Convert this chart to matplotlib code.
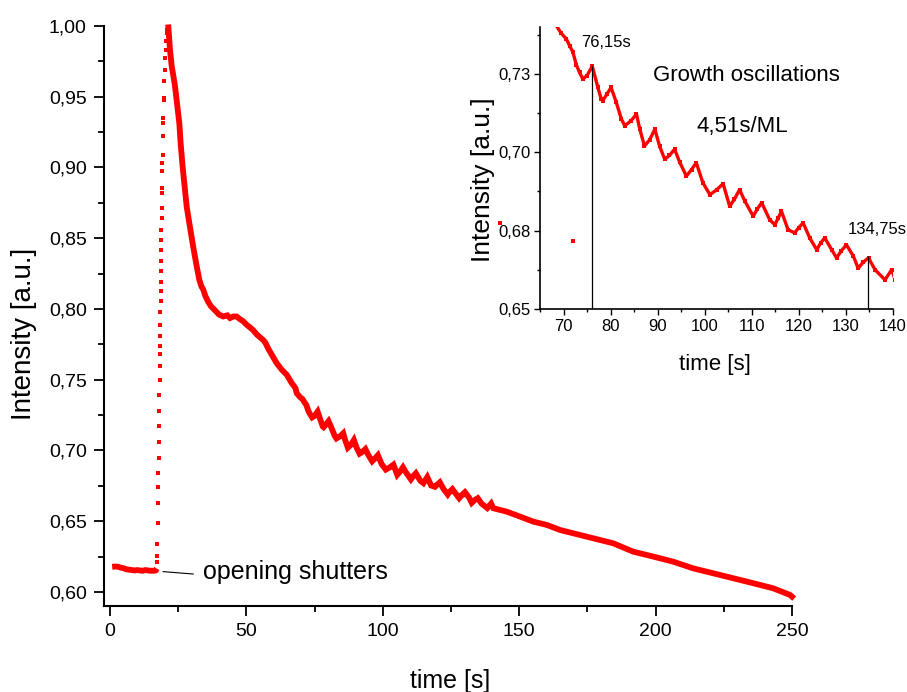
import matplotlib
matplotlib.use("Agg")
import matplotlib.pyplot as plt
from matplotlib.ticker import FuncFormatter, MultipleLocator

plt.rcParams['font.family'] = ['Liberation Sans', 'DejaVu Sans']

# ---------------- data ----------------
baseline_time = [0.8, 2, 3, 4, 5, 6, 7, 8, 9, 10, 11, 12, 13, 14, 15, 16, 16.8, 17.2]
baseline_intensity = [0.6178, 0.6180, 0.6178, 0.6172, 0.6168, 0.6160, 0.6158, 0.6155, 0.6152,
                      0.6155, 0.6152, 0.6150, 0.6155, 0.6152, 0.6150, 0.6150, 0.6152, 0.6165]

rise_time = [17.25, 17.3, 17.35, 17.45, 17.55, 17.6, 17.7, 17.8, 17.85, 17.95, 18.0, 18.1, 18.15,
             18.2, 18.3, 18.33, 18.33, 18.33, 18.45, 18.57, 18.57, 18.69, 18.69, 18.69, 18.82,
             18.82, 18.82, 18.94, 18.94, 19.06, 19.06, 19.18, 19.18, 19.3, 19.43, 19.55, 19.55,
             19.67, 19.79, 19.92, 20.04, 20.16, 20.4, 20.53, 20.77, 21.0]
rise_intensity = [0.6214, 0.6255, 0.634, 0.6488, 0.663, 0.674, 0.684, 0.695, 0.706, 0.717, 0.728,
                  0.739, 0.750, 0.760, 0.768, 0.7735, 0.7806, 0.7888, 0.7982, 0.8053, 0.8124,
                  0.8194, 0.8265, 0.8336, 0.8419, 0.8489, 0.856, 0.8643, 0.8713, 0.882, 0.8855,
                  0.8973, 0.9032, 0.909, 0.922, 0.9315, 0.935, 0.948, 0.949, 0.961, 0.969,
                  0.9774, 0.9833, 0.9892, 0.995, 0.9975]

decay_time = [21.4, 22.0, 22.6, 23.2, 23.8, 24.4, 25.4, 25.9, 26.6, 27.5, 28.1, 29.3, 30.5, 31.8,
              32.7, 33.5, 34.2, 35.0, 36.0, 37.0, 38.5, 40.0, 41.5, 43.0, 44.0, 45.2, 46.4, 47.5,
              48.9, 50.0, 51.3, 52.5, 53.8, 55.0, 56.2, 57.0, 58.0, 59.5, 61.1, 63.0, 64.8, 66.5,
              68.0, 68.45, 69.5, 70.6, 71.3, 72.0, 72.7, 73.4, 74.1, 75.0, 76.1, 77.3, 78.0, 78.3,
              79.2, 80.1, 81.2, 82.3, 83.0, 84.3, 85.5, 86.2, 87.2, 88.3, 89.4, 90.4, 91.5, 92.5,
              93.6, 94.7, 96.1, 97.2, 98.2, 99.6, 101.1, 102.5, 103.9, 105.3, 106.3, 107.4, 108.5,
              110.3, 111.2, 112.1, 113.8, 114.9, 115.6, 116.3, 117.7, 119.1, 120.0, 120.9, 122.3,
              123.8, 124.6, 125.5, 127.0, 128.0, 129.0, 130.1, 131.6, 132.6, 133.7, 134.8, 136.2,
              138.3, 139.7, 140.5, 145.4, 150.3, 155.2, 160.1, 165.0, 169.8, 174.7, 179.6, 184.5,
              191.8, 199.2, 206.5, 213.8, 221.2, 228.5, 235.8, 243.1, 249.3, 250.0]
decay_intensity = [0.999, 0.983, 0.972, 0.965, 0.958, 0.948, 0.9315, 0.917, 0.901, 0.884, 0.8725,
                   0.858, 0.844, 0.830, 0.821, 0.816, 0.8136, 0.809, 0.805, 0.802, 0.799, 0.796,
                   0.7947, 0.7955, 0.7936, 0.7947, 0.7947, 0.793, 0.7912, 0.789, 0.787, 0.785,
                   0.782, 0.780, 0.778, 0.776, 0.772, 0.767, 0.7617, 0.757, 0.7535, 0.748, 0.744,
                   0.7405, 0.738, 0.7362, 0.734, 0.732, 0.728, 0.7255, 0.7234, 0.7245, 0.7275,
                   0.7207, 0.717, 0.7165, 0.7185, 0.7207, 0.716, 0.7106, 0.7085, 0.710, 0.7122,
                   0.7074, 0.702, 0.704, 0.7074, 0.702, 0.6978, 0.699, 0.701, 0.6968, 0.6924,
                   0.6945, 0.6967, 0.6903, 0.6865, 0.688, 0.6900, 0.6828, 0.685, 0.6881, 0.6845,
                   0.6796, 0.682, 0.6839, 0.6785, 0.6769, 0.679, 0.6812, 0.6753, 0.6743, 0.676,
                   0.6775, 0.6727, 0.6689, 0.671, 0.6727, 0.6689, 0.6663, 0.6685, 0.6705, 0.6668,
                   0.6630, 0.665, 0.6663, 0.6625, 0.6593, 0.6625, 0.6592, 0.6568, 0.6533, 0.6497,
                   0.6474, 0.6438, 0.6415, 0.6391, 0.6368, 0.6344, 0.6285, 0.625, 0.6214, 0.6167,
                   0.6132, 0.6097, 0.6062, 0.6026, 0.5979, 0.5967]

inset_outlier_time = [56.4, 72.0]
inset_outlier_intensity = [0.6776, 0.6716]

marker_times = [76.15, 134.75]
marker_tops = [0.7277, 0.6668]
marker_labels = ["76,15s", "134,75s"]
marker_label_pos = [(73.8, 0.7352), (130.4, 0.6753)]

shutter_line_time = [19.5, 30.5]
shutter_line_intensity = [0.6144, 0.6127]

main_yticks = [0.60, 0.65, 0.70, 0.75, 0.80, 0.85, 0.90, 0.95, 1.00]
main_xticks = [0, 50, 100, 150, 200, 250]
inset_xticks = [70, 80, 90, 100, 110, 120, 130, 140]
inset_yticks = [0.65, 0.675, 0.70, 0.725]
inset_ytick_labels = ["0,65", "0,68", "0,70", "0,73"]

RED = '#ff0000'

fig = plt.figure(figsize=(9.07, 6.92), dpi=100)

# ---------------- main axes ----------------
ax = fig.add_axes([104/907, 1-606/692, (792-104)/907, (606-26)/692])
ax.plot(baseline_time, baseline_intensity, color=RED, lw=4.2, solid_capstyle='butt')
ax.plot(rise_time, rise_intensity, ls='none', marker='s', ms=2.6, color=RED, mew=0,
        clip_on=False)
ax.plot(decay_time, decay_intensity, color=RED, lw=4.2, clip_on=False,
        solid_joinstyle='miter')

ax.set_xlim(-2.2, 250)
ax.set_ylim(0.5901, 1.0)
ax.set_xticks(main_xticks)
ax.set_yticks(main_yticks)
ax.xaxis.set_minor_locator(MultipleLocator(25))
ax.yaxis.set_minor_locator(MultipleLocator(0.025))
ax.xaxis.set_major_formatter(FuncFormatter(lambda v, p: f"{v:g}"))
ax.yaxis.set_major_formatter(FuncFormatter(lambda v, p: f"{v:.2f}".replace('.', ',')))
for s in ['top', 'right']:
    ax.spines[s].set_visible(False)
for s in ['left', 'bottom']:
    ax.spines[s].set_linewidth(1.5)
ax.tick_params(which='major', direction='out', length=7.5, width=1.3, labelsize=14, pad=5)
ax.tick_params(which='minor', direction='out', length=4, width=1.3)
ax.set_xlabel("time [s]", fontsize=18)
ax.set_ylabel("Intensity [a.u.]", fontsize=20)
ax.xaxis.set_label_coords(0.503, -0.108)
ax.yaxis.set_label_coords(-0.097, 0.47)

ax.plot(shutter_line_time, shutter_line_intensity, color='black', lw=0.8)
ax.text(34.1, 0.6144, "opening shutters", fontsize=18, va='center', ha='left')

# ---------------- inset axes ----------------
ins = fig.add_axes([540/907, 1-309/692, (893-540)/907, (309-27)/692])
ins.patch.set_alpha(0)
ins.plot(decay_time, decay_intensity, color=RED, lw=2.4)
ins.plot(decay_time, decay_intensity, ls='none', marker='s', ms=3.0, mew=0, color=RED)
ins.plot(inset_outlier_time, inset_outlier_intensity, ls='none', marker='s', ms=2.6, mew=0,
         color=RED, clip_on=False)
ins.vlines(marker_times, 0.65, marker_tops, color='black', lw=0.9)
for lab, (tx, ty) in zip(marker_labels, marker_label_pos):
    ins.text(tx, ty, lab, fontsize=12, ha='left', va='center', clip_on=False)
ins.text(108.9, 0.7245, "Growth oscillations", fontsize=16, ha='center', va='center')
ins.text(108.0, 0.7084, "4,51s/ML", fontsize=16, ha='center', va='center')

ins.set_xlim(65, 140)
ins.set_ylim(0.65, 0.74)
ins.set_xticks(inset_xticks)
ins.set_yticks(inset_yticks)
ins.set_yticklabels(inset_ytick_labels)
ins.xaxis.set_minor_locator(MultipleLocator(5))
ins.yaxis.set_minor_locator(MultipleLocator(0.0125))
for s in ['top', 'right']:
    ins.spines[s].set_visible(False)
for s in ['left', 'bottom']:
    ins.spines[s].set_linewidth(1.2)
ins.tick_params(which='major', direction='out', length=4.5, width=1.0, labelsize=12, pad=2.5)
ins.tick_params(which='minor', direction='out', length=2.5, width=1.0)
ins.set_xlabel("time [s]", fontsize=16)
ins.set_ylabel("Intensity [a.u.]", fontsize=19)
ins.xaxis.set_label_coords(0.496, -0.16)
ins.yaxis.set_label_coords(-0.127, 0.457)

fig.savefig("out.png", dpi=100)
